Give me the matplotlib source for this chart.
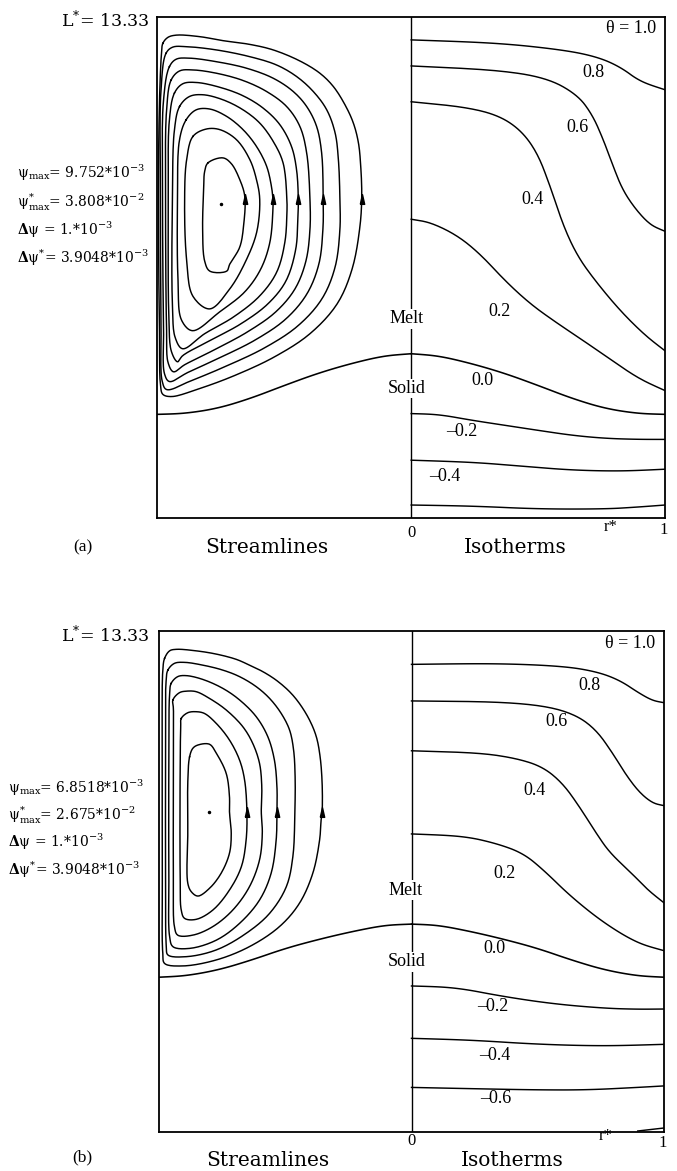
import numpy as np
import matplotlib
matplotlib.use('Agg')
import matplotlib.pyplot as plt

plt.rcParams['mathtext.fontset'] = 'dejavuserif'

a_psi1 = [(.979, 1.895), (.959, 1.919), (.926, 1.928), (.834, 1.922), (.742, 1.906), (.636, 1.891),
          (.544, 1.869), (.439, 1.825), (.360, 1.776), (.307, 1.723), (.261, 1.650), (.228, 1.577),
          (.208, 1.498), (.199, 1.405), (.195, 1.286), (.202, 1.165), (.233, .994), (.292, .855),
          (.399, .736), (.538, .644), (.696, .569), (.834, .517), (.945, .485), (.979, .494),
          (.988, .530), (.992, .744), (.995, 1.007), (.995, 1.498), (.989, 1.763), (.984, 1.856)]
a_psi2 = [(.966, 1.856), (.940, 1.880), (.887, 1.882), (.768, 1.869), (.636, 1.842), (.531, 1.809),
          (.452, 1.763), (.386, 1.703), (.333, 1.630), (.300, 1.538), (.287, 1.431), (.281, 1.272),
          (.281, 1.153), (.300, 1.002), (.352, .875), (.447, .767), (.577, .680), (.735, .604),
          (.866, .549), (.964, .513), (.981, .545), (.986, .750), (.988, 1.272), (.986, 1.710)]
a_psi3 = [(.953, 1.802), (.926, 1.832), (.874, 1.836), (.768, 1.822), (.649, 1.796), (.544, 1.756),
          (.465, 1.703), (.412, 1.643), (.373, 1.564), (.353, 1.458), (.347, 1.272), (.348, 1.153),
          (.364, 1.014), (.411, .895), (.494, .795), (.613, .712), (.763, .636), (.881, .581),
          (.953, .545), (.972, .575), (.976, .750), (.980, 1.272), (.976, 1.670)]
a_psi4 = [(.946, 1.749), (.913, 1.785), (.860, 1.789), (.768, 1.776), (.663, 1.747), (.570, 1.703),
          (.491, 1.643), (.439, 1.564), (.412, 1.458), (.399, 1.272), (.399, 1.153), (.415, 1.026),
          (.458, .915), (.534, .823), (.644, .744), (.783, .668), (.893, .612), (.937, .584),
          (.958, .620), (.964, .750), (.968, 1.272), (.964, 1.630)]
a_psi5 = [(.933, 1.697), (.900, 1.734), (.847, 1.739), (.755, 1.720), (.663, 1.686), (.584, 1.637),
          (.518, 1.571), (.472, 1.484), (.452, 1.392), (.445, 1.272), (.447, 1.193), (.455, 1.074),
          (.494, .946), (.565, .855), (.672, .775), (.802, .704), (.901, .648), (.921, .624),
          (.945, .665), (.955, .800), (.957, 1.272), (.953, 1.590)]
a_psi6 = [(.913, 1.643), (.874, 1.683), (.821, 1.690), (.742, 1.670), (.663, 1.630), (.597, 1.577),
          (.544, 1.504), (.505, 1.418), (.490, 1.272), (.490, 1.213), (.498, 1.101), (.530, .982),
          (.597, .887), (.700, .803), (.814, .736), (.901, .676), (.930, .720), (.941, .850),
          (.941, 1.272), (.933, 1.551)]
a_psi7 = [(.887, 1.590), (.847, 1.630), (.794, 1.633), (.728, 1.604), (.663, 1.551), (.610, 1.484),
          (.570, 1.405), (.551, 1.325), (.545, 1.272), (.545, 1.233), (.557, 1.101), (.593, .994),
          (.656, .903), (.755, .823), (.862, .748), (.905, .790), (.919, .950), (.921, 1.272),
          (.913, 1.511)]
a_psi8 = [(.860, 1.524), (.808, 1.553), (.755, 1.551), (.689, 1.511), (.636, 1.431), (.610, 1.352),
          (.597, 1.272), (.609, 1.141), (.652, 1.026), (.715, .915), (.794, .835), (.860, .885),
          (.885, 1.030), (.893, 1.272), (.885, 1.431)]
a_psi9 = [(.801, 1.418), (.742, 1.438), (.709, 1.415), (.676, 1.352), (.656, 1.285), (.660, 1.173),
          (.676, 1.081), (.715, 1.014), (.727, .986), (.794, .986), (.814, 1.026), (.822, 1.153),
          (.818, 1.312), (.814, 1.384)]
a_streams = [a_psi1, a_psi2, a_psi3, a_psi4, a_psi5, a_psi6, a_psi7, a_psi8, a_psi9]
a_centre = (.751, 1.252)

# ---- panel (a) isotherms (r, z) ----
a_t08 = [(0, 1.909), (.339, 1.897), (.600, 1.869), (.734, 1.841), (.824, 1.801), (.903, 1.742), (1, 1.710)]
a_t06 = [(0, 1.805), (.339, 1.789), (.536, 1.757), (.655, 1.690), (.714, 1.610), (.757, 1.511),
         (.793, 1.412), (.832, 1.312), (.884, 1.233), (.943, 1.169), (1, 1.145)]
a_t04 = [(0, 1.662), (.205, 1.642), (.339, 1.610), (.430, 1.551), (.497, 1.459), (.548, 1.324),
         (.600, 1.165), (.655, 1.046), (.726, .946), (.824, .827), (.923, .728), (1, .668)]
a_t02 = [(0, 1.193), (.075, 1.181), (.181, 1.129), (.272, 1.054), (.371, .946), (.469, .855),
         (.568, .783), (.667, .716), (.765, .648), (.895, .557), (1, .509)]
a_t00 = [(0, .656), (.107, .648), (.241, .616), (.371, .577), (.501, .529), (.635, .477),
         (.765, .437), (.895, .417), (1, .414)]
a_tm02 = [(0, .417), (.107, .414), (.241, .390), (.371, .370), (.501, .350), (.635, .330),
          (.765, .318), (.895, .314), (1, .314)]
a_tm04 = [(0, .231), (.241, .223), (.438, .207), (.635, .191), (.832, .187), (1, .195)]
a_tm06 = [(0, .052), (.241, .048), (.501, .036), (.765, .036), (.895, .044), (1, .052)]
a_isotherms = [a_t08, a_t06, a_t04, a_t02, a_tm02, a_tm04, a_tm06]

# ---- panel (b) streamlines ----
b_psi1 = [(.978, 1.891), (.958, 1.921), (.932, 1.927), (.853, 1.921), (.773, 1.908), (.694, 1.887),
          (.642, 1.864), (.589, 1.838), (.536, 1.804), (.483, 1.758), (.444, 1.711), (.404, 1.645),
          (.377, 1.578), (.362, 1.498), (.354, 1.392), (.354, 1.279), (.358, 1.246), (.364, 1.166),
          (.391, 1.033), (.444, .913), (.523, .820), (.642, .740), (.773, .687), (.906, .663),
          (.978, .673), (.985, .713), (.987, 1.0), (.987, 1.5), (.985, 1.844)]
b_psi2 = [(.965, 1.844), (.939, 1.871), (.899, 1.875), (.827, 1.864), (.747, 1.844), (.681, 1.818),
          (.615, 1.778), (.562, 1.731), (.516, 1.671), (.483, 1.605), (.467, 1.525), (.461, 1.418),
          (.462, 1.279), (.470, 1.099), (.496, .979), (.562, .873), (.655, .793), (.773, .727),
          (.892, .700), (.965, .707), (.971, .740), (.974, 1.0), (.974, 1.5), (.972, 1.80)]
b_psi3 = [(.952, 1.791), (.926, 1.818), (.892, 1.822), (.827, 1.807), (.747, 1.771), (.681, 1.725),
          (.615, 1.658), (.569, 1.578), (.543, 1.485), (.533, 1.378), (.533, 1.279), (.536, 1.166),
          (.556, 1.033), (.602, .926), (.681, .833), (.773, .766), (.879, .733), (.945, .740),
          (.958, .780), (.961, 1.0), (.961, 1.5), (.958, 1.75)]
b_psi4 = [(.945, 1.725), (.919, 1.754), (.892, 1.760), (.853, 1.758), (.800, 1.731), (.734, 1.685),
          (.668, 1.618), (.629, 1.552), (.602, 1.472), (.593, 1.378), (.595, 1.279), (.591, 1.192),
          (.602, 1.086), (.642, .979), (.708, .886), (.787, .820), (.866, .786), (.926, .786),
          (.939, .820), (.943, 1.0), (.943, 1.5), (.943, 1.69)]
b_psi5 = [(.912, 1.651), (.886, 1.674), (.853, 1.678), (.820, 1.671), (.773, 1.631), (.721, 1.565),
          (.681, 1.485), (.661, 1.405), (.652, 1.279), (.655, 1.166), (.674, 1.059), (.721, .966),
          (.787, .886), (.853, .849), (.899, .853), (.912, .886), (.916, 1.0), (.916, 1.5), (.914, 1.62)]
b_psi6 = [(.879, 1.498), (.866, 1.532), (.846, 1.545), (.800, 1.548), (.773, 1.512), (.734, 1.432),
          (.721, 1.339), (.721, 1.279), (.714, 1.192), (.721, 1.113), (.754, 1.033), (.800, .973),
          (.846, .942), (.872, .959), (.886, .993), (.886, 1.2), (.886, 1.4)]
b_streams = [b_psi1, b_psi2, b_psi3, b_psi4, b_psi5, b_psi6]
b_centre = (.803, 1.279)

# ---- panel (b) isotherms ----
b_t08 = [(0, 1.867), (.336, 1.871), (.600, 1.860), (.733, 1.838), (.824, 1.804), (.903, 1.751),
         (.956, 1.722), (1, 1.714)]
b_t06 = [(0, 1.721), (.336, 1.718), (.533, 1.701), (.652, 1.665), (.732, 1.605), (.797, 1.512),
         (.850, 1.425), (.903, 1.355), (.956, 1.312), (1, 1.303)]
b_t04 = [(0, 1.522), (.269, 1.514), (.415, 1.492), (.520, 1.458), (.599, 1.392), (.665, 1.299),
         (.732, 1.192), (.785, 1.115), (.870, 1.035), (.936, .966), (1, .915)]
b_t02 = [(0, 1.190), (.204, 1.182), (.337, 1.152), (.442, 1.113), (.523, 1.046), (.632, .939),
         (.764, .833), (.896, .753), (1, .724)]
b_t00 = [(0, .830), (.104, .826), (.237, .800), (.368, .769), (.500, .733), (.632, .687),
         (.764, .647), (.896, .623), (1, .618)]
b_tm02 = [(0, .583), (.170, .578), (.368, .540), (.566, .511), (.764, .494), (.896, .490), (1, .491)]
b_tm04 = [(0, .374), (.237, .367), (.500, .350), (.764, .343), (1, .350)]
b_tm06 = [(0, .178), (.237, .173), (.500, .168), (.698, .168), (.896, .178), (1, .184)]
b_tm08 = [(.896, .004), (1, .016)]
b_isotherms = [b_t08, b_t06, b_t04, b_t02, b_tm02, b_tm04, b_tm06, b_tm08]


def spline(pts, closed=False, n=12):
    # centripetal Catmull-Rom through the read-off points (keeps the tight corners)
    P = np.asarray(pts, float)
    if closed:
        E = np.vstack([P[-1], P, P[0], P[1]])
    else:
        E = np.vstack([2 * P[0] - P[1], P, 2 * P[-1] - P[-2]])
    out = []
    for i in range(1, len(E) - 2):
        p0, p1, p2, p3 = E[i - 1], E[i], E[i + 1], E[i + 2]
        t0 = 0.0
        t1 = t0 + max(np.linalg.norm(p1 - p0), 1e-6) ** 0.5
        t2 = t1 + max(np.linalg.norm(p2 - p1), 1e-6) ** 0.5
        t3 = t2 + max(np.linalg.norm(p3 - p2), 1e-6) ** 0.5
        t = np.linspace(t1, t2, n, endpoint=False)[:, None]
        A1 = (t1 - t) / (t1 - t0) * p0 + (t - t0) / (t1 - t0) * p1
        A2 = (t2 - t) / (t2 - t1) * p1 + (t - t1) / (t2 - t1) * p2
        A3 = (t3 - t) / (t3 - t2) * p2 + (t - t2) / (t3 - t2) * p3
        B1 = (t2 - t) / (t2 - t0) * A1 + (t - t0) / (t2 - t0) * A2
        B2 = (t3 - t) / (t3 - t1) * A2 + (t - t1) / (t3 - t1) * A3
        out.append((t2 - t) / (t2 - t1) * B1 + (t - t1) / (t2 - t1) * B2)
    out = np.vstack(out)
    end = P[0] if closed else P[-1]
    return np.vstack([out, end])


def chaikin(pts, it=4):
    # smooth open curve, ends kept
    P = np.asarray(pts, float)
    for _ in range(it):
        Q = 0.75 * P[:-1] + 0.25 * P[1:]
        R = 0.25 * P[:-1] + 0.75 * P[1:]
        mid = np.empty((2 * len(Q), 2))
        mid[0::2] = Q
        mid[1::2] = R
        P = np.vstack([P[0], mid[1:-1], P[-1]])
    return P


def inner_r(xy, z0):
    r, z = xy[:, 0], xy[:, 1]
    hits = []
    for i in range(len(z) - 1):
        if (z[i] - z0) * (z[i + 1] - z0) <= 0 and z[i] != z[i + 1]:
            t = (z0 - z[i]) / (z[i + 1] - z[i])
            hits.append(r[i] + t * (r[i + 1] - r[i]))
    return min(hits)


arrow = [(-0.45, -1), (0.45, -1), (0, 1), (-0.45, -1)]
serif = 'Liberation Serif'
wide = 'DejaVu Serif'
fs_lab = 13


def panel(ax, streams, arrow_ids, arrow_z, centre, isotherms, interface):
    ax.set_xlim(-1, 1)
    ax.set_ylim(0, 2)
    ax.set_xticks([])
    ax.set_yticks([])
    for s in ax.spines.values():
        s.set_linewidth(1.3)
    for k, loop in enumerate(streams):
        xy = spline(loop, closed=True)
        ax.plot(-xy[:, 0], xy[:, 1], color='k', lw=1.05)
        if k in arrow_ids:
            ax.plot(-inner_r(xy, arrow_z), arrow_z, marker=arrow, ms=7, color='k', ls='none')
    ax.plot(-centre[0], centre[1], 'k.', ms=3)
    for line in isotherms:
        xy = chaikin(line)
        ax.plot(xy[:, 0], xy[:, 1], color='k', lw=1.05)
    xy = chaikin(interface)
    ax.plot(xy[:, 0], xy[:, 1], color='k', lw=1.15)
    ax.plot(-xy[:, 0], xy[:, 1], color='k', lw=1.15)
    ax.axvline(0, color='k', lw=1.0)


fig = plt.figure(figsize=(6.77, 11.71), dpi=100)
ax_a = fig.add_axes([0.2326, 0.5576, 0.7496, 0.4278])
ax_b = fig.add_axes([0.2349, 0.0333, 0.7459, 0.4278])

panel(ax_a, a_streams, [0, 2, 4, 6, 8], 1.272, a_centre, a_isotherms, a_t00)
panel(ax_b, b_streams, [0, 2, 4], 1.279, b_centre, b_isotherms, b_t00)

box = dict(facecolor='white', edgecolor='none', pad=1.0)
kw = dict(ha='center', va='center', fontsize=fs_lab, family=serif)
side = dict(ha='left', va='center', fontsize=10, family=wide, clip_on=False)
out = dict(ha='center', va='center', clip_on=False)

# panel (a) labels
ax_a.text(0.965, 1.955, 'θ = 1.0', ha='right', va='center', fontsize=fs_lab, family=serif)
ax_a.text(0.718, 1.777, '0.8', **kw)
ax_a.text(0.655, 1.559, '0.6', **kw)
ax_a.text(0.477, 1.272, '0.4', **kw)
ax_a.text(0.347, 0.823, '0.2', **kw)
ax_a.text(0.280, 0.549, '0.0', **kw)
ax_a.text(0.201, 0.346, '–0.2', **kw)
ax_a.text(0.134, 0.167, '–0.4', **kw)
ax_a.text(-0.02, 0.795, 'Melt', bbox=box, **kw)
ax_a.text(-0.016, 0.517, 'Solid', bbox=box, **kw)

ax_a.text(-1.03, 1.985, r'L$^{*}$= 13.33', ha='right', va='center', fontsize=12.5, family=wide, clip_on=False)
ax_a.text(-1.554, 1.377, r'ψ$_{\rm max}$= 9.752*10$^{-3}$', **side)
ax_a.text(-1.554, 1.261, r'ψ$^{*}_{\rm max}$= 3.808*10$^{-2}$', **side)
ax_a.text(-1.554, 1.150, r'$\mathbf{\Delta}$ψ = 1.*10$^{-3}$', **side)
ax_a.text(-1.554, 1.038, r'$\mathbf{\Delta}$ψ$^{*}$= 3.9048*10$^{-3}$', **side)

ax_a.text(0, -0.06, '0', fontsize=12, family=serif, **out)
ax_a.text(0.995, -0.048, '1', fontsize=12, family=serif, **out)
ax_a.text(0.785, -0.036, 'r*', fontsize=12, family=serif, **out)
ax_a.text(-1.294, -0.116, '(a)', fontsize=12.5, family=serif, **out)
ax_a.text(-0.57, -0.116, 'Streamlines', fontsize=14.5, family=wide, **out)
ax_a.text(0.41, -0.116, 'Isotherms', fontsize=14.5, family=wide, **out)

# panel (b) labels
ax_b.text(0.965, 1.952, 'θ = 1.0', ha='right', va='center', fontsize=fs_lab, family=serif)
ax_b.text(0.705, 1.784, '0.8', **kw)
ax_b.text(0.573, 1.638, '0.6', **kw)
ax_b.text(0.487, 1.365, '0.4', **kw)
ax_b.text(0.368, 1.033, '0.2', **kw)
ax_b.text(0.328, 0.733, '0.0', **kw)
ax_b.text(0.322, 0.503, '–0.2', **kw)
ax_b.text(0.329, 0.307, '–0.4', **kw)
ax_b.text(0.335, 0.135, '–0.6', **kw)
ax_b.text(-0.024, 0.966, 'Melt', bbox=box, **kw)
ax_b.text(-0.02, 0.680, 'Solid', bbox=box, **kw)

ax_b.text(-1.038, 1.984, r'L$^{*}$= 13.33', ha='right', va='center', fontsize=12.5, family=wide, clip_on=False)
ax_b.text(-1.6, 1.373, r'ψ$_{\rm max}$= 6.8518*10$^{-3}$', **side)
ax_b.text(-1.6, 1.265, r'ψ$^{*}_{\rm max}$= 2.675*10$^{-2}$', **side)
ax_b.text(-1.6, 1.158, r'$\mathbf{\Delta}$ψ = 1.*10$^{-3}$', **side)
ax_b.text(-1.6, 1.046, r'$\mathbf{\Delta}$ψ$^{*}$= 3.9048*10$^{-3}$', **side)

ax_b.text(0, -0.036, '0', fontsize=12, family=serif, **out)
ax_b.text(0.995, -0.044, '1', fontsize=12, family=serif, **out)
ax_b.text(0.768, -0.016, 'r*', fontsize=12, family=serif, **out)
ax_b.text(-1.303, -0.10, '(b)', fontsize=12.5, family=serif, **out)
ax_b.text(-0.57, -0.112, 'Streamlines', fontsize=14.5, family=wide, **out)
ax_b.text(0.40, -0.112, 'Isotherms', fontsize=14.5, family=wide, **out)

fig.savefig('out.png', dpi=100)
